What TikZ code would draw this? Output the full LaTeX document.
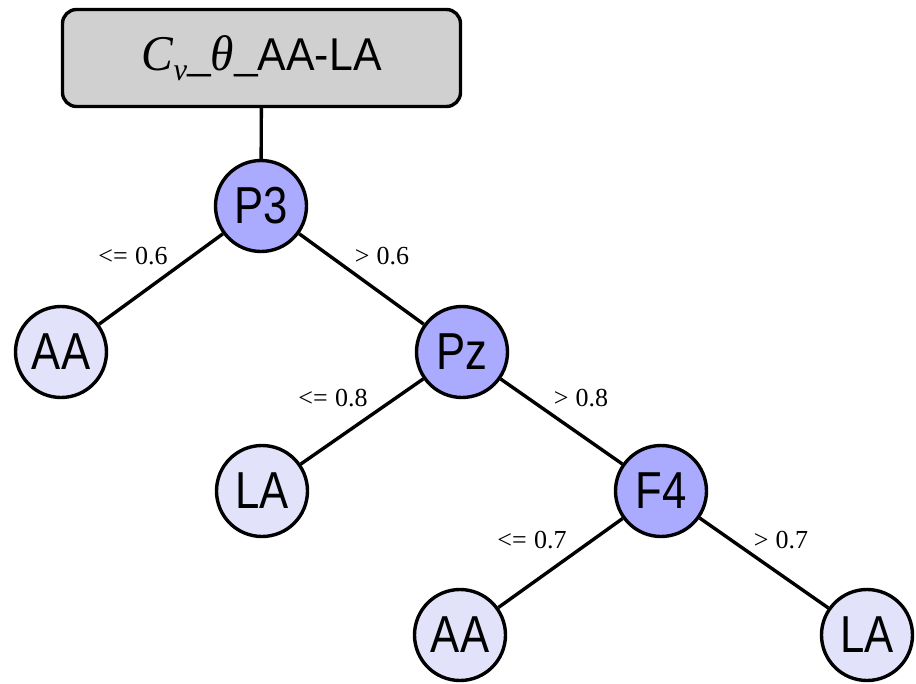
\documentclass[tikz,border=0pt]{standalone}
\usepackage{fontspec}
\setmainfont{Liberation Serif}
\newfontfamily\nodefont[FakeStretch=0.84]{Liberation Sans}
\newfontfamily\titlesans[FakeStretch=0.93]{Liberation Sans}
\newfontfamily\titleserif[FakeStretch=0.95]{Liberation Serif}
\newfontfamily\labelfont[FakeStretch=1.0]{Liberation Serif}
\definecolor{innerfill}{HTML}{AAAAFF}
\definecolor{leaffill}{HTML}{E2E2FA}
\definecolor{boxfill}{HTML}{D0D0D0}
\tikzset{
  base/.style={circle, draw=black, line width=3.4pt, minimum size=91pt, inner sep=0pt, font=\nodefont\fontsize{52}{52}\selectfont},
  inner/.style={base, fill=innerfill},
  leaf/.style={base, fill=leaffill},
  titlebox/.style={draw=black, line width=3.4pt, rounded corners=14pt, fill=boxfill, minimum width=398pt, minimum height=97pt, inner sep=0pt},
  edge/.style={line width=3.4pt, draw=black},
  elabel/.style={font=\labelfont\fontsize{26}{26}\selectfont, inner sep=0pt}
}
\begin{document}
\begin{tikzpicture}[x=1pt,y=-1pt]
\useasboundingbox (0,0) rectangle (916,683);
\node[titlebox] (root) at (261.5,58) {\titleserif\fontsize{50}{50}\selectfont\textit{C}\raisebox{-0.2em}{\fontsize{32}{32}\selectfont\textit{v}}\_\textit{θ}\_\titlesans\fontsize{46}{46}\selectfont AA-LA};
\node[inner] (p3) at (261,206) {P3};
\node[leaf] (aa1) at (61,352) {AA};
\node[inner] (pz) at (462,352) {Pz};
\node[leaf] (la1) at (262,491) {LA};
\node[inner] (f4) at (661,491) {F4};
\node[leaf] (aa2) at (460,635) {AA};
\node[leaf] (la2) at (867,635) {LA};
\draw[edge] (root) -- (p3);
\draw[edge] (p3) -- (aa1);
\draw[edge] (p3) -- (pz);
\draw[edge] (pz) -- (la1);
\draw[edge] (pz) -- (f4);
\draw[edge] (f4) -- (aa2);
\draw[edge] (f4) -- (la2);
\node[elabel] (l1) at (133,256) {<=\;0.6};
\node[elabel] (l2) at (382,256) {>\;0.6};
\node[elabel] (l3) at (333,398) {<=\;0.8};
\node[elabel] (l4) at (581,398) {>\;0.8};
\node[elabel] (l5) at (532,540) {<=\;0.7};
\node[elabel] (l6) at (781,540) {>\;0.7};
\end{tikzpicture}
\end{document}
